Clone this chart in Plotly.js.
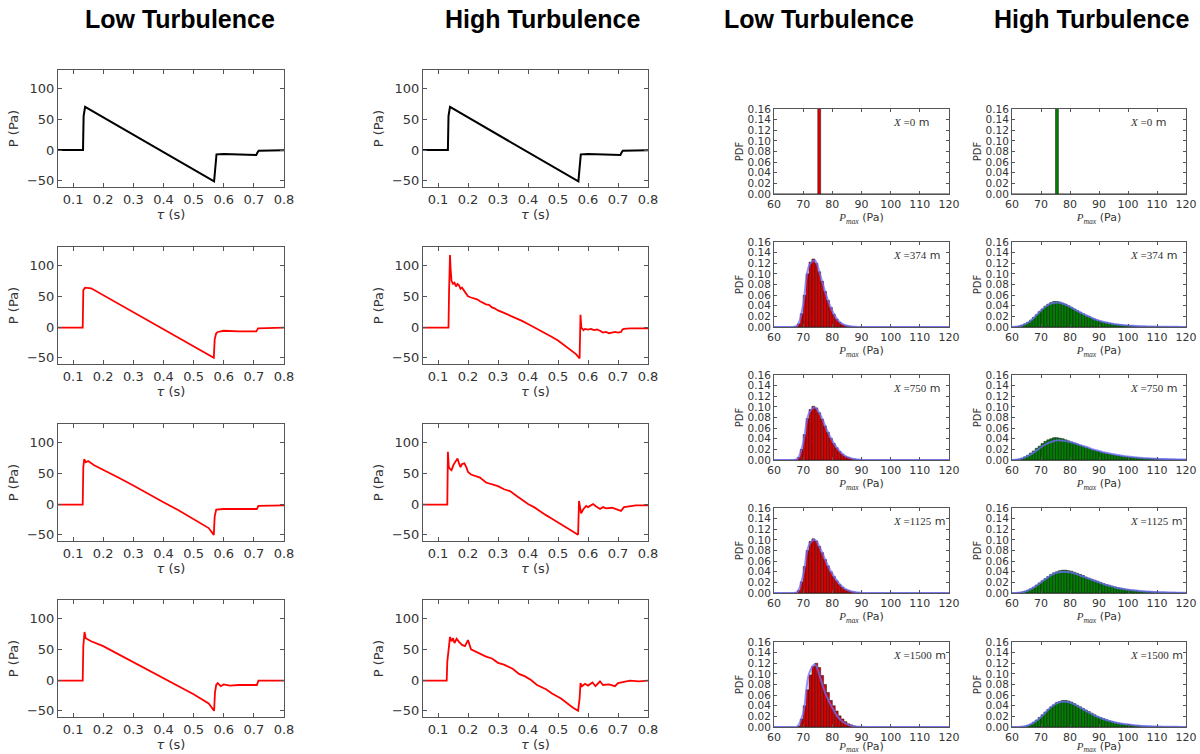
<!DOCTYPE html>
<html><head><meta charset="utf-8">
<script src="https://cdn.plot.ly/plotly-3.0.1.min.js"></script>
<style>html,body{margin:0;padding:0;background:#fff}#chart{width:1200px;height:754px}</style>
</head><body><div id="chart"></div><script>
// ---------- column titles ----------
const columnTitles = ['Low Turbulence','High Turbulence','Low Turbulence','High Turbulence'];
const distances = ['0','374','750','1125','1500'];

// ---------- waveform ticks ----------
const waveXTicks = [0.1,0.2,0.3,0.4,0.5,0.6,0.7,0.8];
const waveYTicks = [-50,0,50,100];

// ---------- waveforms (time s, pressure Pa) ----------
const waveT_0 = [0.05,0.133,0.135,0.14,0.568,0.571,0.576,0.6,0.65,0.7,0.708,0.712,0.716,0.8];
const waveP_0 = [0,0,55,70,-51,-30,-7,-6.5,-7,-8,-8,-4,-1,-0.5];

const waveT_low374 = [0.05,0.132,0.134,0.14,0.16,0.2,0.3,0.4,0.5,0.567,0.57,0.575,0.58,0.6,0.65,0.7,0.708,0.714,0.8];
const waveP_low374 = [-1,-1,60,64,63,52,24,-3,-31,-50,-20,-10,-8,-6,-7,-8,-7,-2,-1];

const waveT_low750 = [0.05,0.132,0.134,0.137,0.142,0.15,0.17,0.2,0.25,0.3,0.35,0.4,0.45,0.5,0.55,0.567,0.57,0.575,0.6,0.65,0.7,0.71,0.715,0.8];
const waveP_low750 = [-1,-1,60,73,68,70,63,56,43,30,16,3,-10,-24,-39,-50,-20,-9,-8,-8,-8,-8,-3,-2];

const waveT_low1125 = [0.05,0.132,0.134,0.138,0.142,0.15,0.16,0.2,0.25,0.3,0.35,0.4,0.45,0.5,0.55,0.568,0.571,0.575,0.58,0.59,0.6,0.62,0.65,0.7,0.71,0.715,0.8];
const waveP_low1125 = [-1,-1,55,78,68,66,63,55,42,29,16,3,-10,-23,-38,-50,-20,-8,-5,-10,-7,-9,-8,-8,-8,-1,-1];

const waveT_high374 = [0.05,0.135,0.137,0.14,0.142,0.145,0.15,0.155,0.16,0.165,
  0.17,0.175,0.18,0.185,0.19,0.195,0.2,0.21,0.22,0.23,
  0.24,0.25,0.26,0.27,0.28,0.29,0.3,0.32,0.34,0.36,
  0.38,0.4,0.42,0.44,0.46,0.48,0.5,0.52,0.54,0.56,
  0.572,0.575,0.578,0.58,0.585,0.59,0.6,0.61,0.62,0.63,
  0.64,0.65,0.66,0.67,0.68,0.69,0.7,0.71,0.715,0.72,
  0.74,0.76,0.78,0.8];
const waveP_high374 = [-1,-1,60,117,95,75,70,72,66,70,
  68,62,64,60,58,52,50,48,47,45,
  42,39,37,36,32,30,27,23,19,15,
  10,5,0,-5,-10,-16,-22,-29,-36,-44,
  -51,20,-3,-2,-5,-3,-4,-3,-5,-4,
  -6,-9,-8,-10,-9,-8,-9,-8,-4,-3,
  -2,-2,-3,-2];

const waveT_high750 = [0.05,0.131,0.133,0.136,0.14,0.145,0.152,0.158,0.165,0.17,
  0.175,0.18,0.188,0.195,0.2,0.21,0.22,0.24,0.26,0.28,
  0.3,0.32,0.34,0.36,0.38,0.4,0.42,0.44,0.46,0.48,
  0.5,0.52,0.54,0.56,0.567,0.57,0.577,0.585,0.594,0.6,
  0.61,0.617,0.625,0.64,0.65,0.66,0.68,0.7,0.71,0.72,
  0.74,0.76,0.8];
const waveP_high750 = [-1,-1,85,60,57,55,64,68,74,66,
  60,65,66,59,52,48,46,43,35,32,
  29,24,21,14,7,0,-5,-12,-18,-24,
  -30,-36,-41,-47,-50,5,-15,-8,-3,-5,
  -2,0,-3,-8,-5,-7,-6,-9,-11,-5,
  -3,-2,-2];

const waveT_high1125 = [0.05,0.129,0.131,0.14,0.145,0.15,0.155,0.162,0.17,0.18,
  0.19,0.2,0.21,0.23,0.26,0.28,0.3,0.32,0.35,0.37,
  0.39,0.41,0.43,0.46,0.48,0.51,0.53,0.55,0.567,0.572,
  0.575,0.58,0.59,0.6,0.615,0.625,0.64,0.65,0.67,0.69,
  0.7,0.72,0.74,0.77,0.8];
const waveP_high1125 = [-1,-1,30,70,63,68,60,67,62,57,
  55,65,50,45,38,35,28,25,18,10,
  6,0,-8,-15,-22,-30,-38,-45,-50,-30,
  -5,-10,-6,-9,-4,-10,-2,-8,-7,-10,
  -5,-3,-1,-2,-1];

// ---------- histogram bins (Pa) ----------
const binCenters = [60.5,61.5,62.5,63.5,64.5,65.5,66.5,67.5,68.5,69.5,
  70.5,71.5,72.5,73.5,74.5,75.5,76.5,77.5,78.5,79.5,
  80.5,81.5,82.5,83.5,84.5,85.5,86.5,87.5,88.5,89.5,
  90.5,91.5,92.5,93.5,94.5,95.5,96.5,97.5,98.5,99.5,
  100.5,101.5,102.5,103.5,104.5,105.5,106.5,107.5,108.5,109.5,
  110.5,111.5,112.5,113.5,114.5,115.5,116.5,117.5,118.5,119.5];
const histXTicks = [60,70,80,90,100,110,120];

const pdfLow0 = [0,0,0,0,0,0,0,0,0,0, 0,0,0,0,0,1,0,0,0,0,
  0,0,0,0,0,0,0,0,0,0, 0,0,0,0,0,0,0,0,0,0, 0,0,0,0,0,0,0,0,0,0, 0,0,0,0,0,0,0,0,0,0];
const pdfLow374 = [0,0,0,0,0,0,0,0.001,0.006,0.025,
  0.06,0.1,0.122,0.128,0.12,0.104,0.086,0.067,0.05,0.037,
  0.024,0.015,0.009,0.005,0.003,0.002,0.001,0.0005,0,0,
  0,0,0,0,0,0,0,0,0,0, 0,0,0,0,0,0,0,0,0,0, 0,0,0,0,0,0,0,0,0,0];
const pdfLow750 = [0,0,0,0,0,0,0,0.001,0.005,0.02,
  0.048,0.078,0.095,0.101,0.098,0.089,0.077,0.064,0.052,0.041,
  0.031,0.023,0.016,0.011,0.007,0.005,0.003,0.002,0.001,0.0005,
  0,0,0,0,0,0,0,0,0,0, 0,0,0,0,0,0,0,0,0,0, 0,0,0,0,0,0,0,0,0,0];
const pdfLow1125 = [0,0,0,0,0,0,0,0.001,0.005,0.021,
  0.05,0.08,0.097,0.102,0.098,0.088,0.076,0.063,0.051,0.04,
  0.031,0.023,0.016,0.011,0.007,0.005,0.003,0.002,0.001,0.0005,
  0,0,0,0,0,0,0,0,0,0, 0,0,0,0,0,0,0,0,0,0, 0,0,0,0,0,0,0,0,0,0];
const pdfLow1500 = [0,0,0,0,0,0,0,0,0.002,0.015,
  0.04,0.07,0.098,0.114,0.12,0.112,0.097,0.08,0.065,0.05,
  0.04,0.03,0.021,0.015,0.01,0.006,0.004,0.002,0.001,0.0005,
  0,0,0,0,0,0,0,0,0,0, 0,0,0,0,0,0,0,0,0,0, 0,0,0,0,0,0,0,0,0,0];

const pdfHigh0 = [0,0,0,0,0,0,0,0,0,0, 0,0,0,0,0,1,0,0,0,0,
  0,0,0,0,0,0,0,0,0,0, 0,0,0,0,0,0,0,0,0,0, 0,0,0,0,0,0,0,0,0,0, 0,0,0,0,0,0,0,0,0,0];
const pdfHigh374 = [0.0003,0.0008,0.0018,0.0035,0.006,0.009,0.013,0.018,0.023,0.029,
  0.034,0.039,0.043,0.046,0.048,0.048,0.047,0.045,0.043,0.04,
  0.037,0.034,0.031,0.028,0.025,0.022,0.02,0.017,0.015,0.013,
  0.011,0.0095,0.0083,0.0072,0.0062,0.0053,0.0046,0.004,0.0034,0.003,
  0.0026,0.0022,0.0019,0.0016,0.0014,0.0012,0.001,0.0009,0.0008,0.0007,
  0.0006,0.0005,0.0004,0.0004,0.0003,0.0003,0.0002,0.0002,0.0002,0.0001];
const pdfHigh750 = [0.0003,0.0008,0.0018,0.0035,0.006,0.009,0.013,0.017,0.022,0.026,
  0.031,0.035,0.038,0.04,0.042,0.042,0.041,0.04,0.038,0.036,
  0.034,0.032,0.03,0.028,0.026,0.024,0.022,0.02,0.0185,0.017,
  0.0155,0.014,0.0127,0.0115,0.0104,0.0094,0.0085,0.0077,0.007,0.0063,
  0.0057,0.0052,0.0047,0.0042,0.0038,0.0034,0.0031,0.0028,0.0025,0.0023,
  0.0021,0.0019,0.0017,0.0015,0.0014,0.0012,0.0011,0.001,0.0009,0.0008];
const pdfHigh1125 = [0.0001,0.0004,0.001,0.002,0.0035,0.0055,0.008,0.011,0.015,0.019,
  0.023,0.027,0.031,0.035,0.038,0.04,0.042,0.043,0.043,0.042,
  0.041,0.039,0.037,0.035,0.033,0.03,0.028,0.026,0.024,0.022,
  0.02,0.018,0.016,0.0145,0.013,0.0115,0.0102,0.009,0.008,0.007,
  0.0062,0.0055,0.0048,0.0042,0.0037,0.0032,0.0028,0.0025,0.0022,0.0019,
  0.0017,0.0015,0.0013,0.0011,0.001,0.0009,0.0008,0.0007,0.0006,0.0005];
const pdfHigh1500 = [0,0.0001,0.0003,0.0007,0.0015,0.003,0.0055,0.009,0.013,0.018,
  0.023,0.028,0.033,0.038,0.042,0.046,0.048,0.05,0.05,0.049,
  0.047,0.044,0.041,0.038,0.035,0.032,0.029,0.026,0.023,0.02,
  0.018,0.016,0.014,0.012,0.0105,0.009,0.0078,0.0067,0.0057,0.0049,
  0.0042,0.0036,0.003,0.0026,0.0022,0.0018,0.0015,0.0013,0.0011,0.0009,
  0.0008,0.0006,0.0005,0.0004,0.0004,0.0003,0.0002,0.0002,0.0002,0.0001];

// ---------- fitted PDF curves ----------
const fitX = [60,62,64,66,68,70,72,74,76,78,80,82,84,86,88,90,92,94,96,98,100,102,104,106,108,110,112,114,116,118,120];
const fitLow374 = [0,0,0,0,0.003,0.042,0.115,0.125,0.095,0.058,0.03,0.012,0.004,0.0015,0.0005,0,0,0,0,0,0,0,0,0,0,0,0,0,0,0,0];
const fitLow750 = [0,0,0,0,0.002,0.032,0.088,0.099,0.084,0.058,0.036,0.02,0.009,0.004,0.0015,0.0005,0,0,0,0,0,0,0,0,0,0,0,0,0,0,0];
const fitLow1125 = [0,0,0,0,0.002,0.034,0.09,0.1,0.082,0.057,0.036,0.02,0.009,0.004,0.0015,0.0005,0,0,0,0,0,0,0,0,0,0,0,0,0,0,0];
const fitLow1500 = [0,0,0,0,0.001,0.026,0.1,0.118,0.09,0.058,0.036,0.018,0.008,0.003,0.001,0.0003,0,0,0,0,0,0,0,0,0,0,0,0,0,0,0];
const fitHigh374 = [0,0.001,0.004,0.01,0.02,0.031,0.04,0.045,0.046,0.043,0.038,0.032,0.026,0.021,0.016,0.012,0.009,0.007,0.005,0.004,0.003,0.0022,0.0016,0.0012,0.0009,0.0007,0.0005,0.0004,0.0003,0.0002,0.0002];
const fitHigh750 = [0,0.001,0.004,0.009,0.016,0.024,0.031,0.035,0.037,0.036,0.034,0.031,0.027,0.024,0.02,0.017,0.014,0.012,0.01,0.008,0.0065,0.0053,0.0043,0.0035,0.0028,0.0023,0.0019,0.0015,0.0012,0.001,0.0008];
const fitHigh1125 = [0,0.0005,0.002,0.006,0.012,0.02,0.028,0.035,0.039,0.04,0.039,0.036,0.032,0.028,0.024,0.02,0.016,0.013,0.01,0.008,0.0063,0.005,0.0039,0.003,0.0023,0.0018,0.0014,0.001,0.0008,0.0006,0.0005];
const fitHigh1500 = [0,0,0.001,0.004,0.01,0.019,0.03,0.04,0.046,0.048,0.046,0.041,0.035,0.029,0.023,0.018,0.014,0.011,0.008,0.006,0.0045,0.0033,0.0024,0.0017,0.0012,0.0009,0.0006,0.0004,0.0003,0.0002,0.0001];

// ---------- layout geometry (pixels) ----------
const W = 1200, H = 754;
const waveCols = [[58,284],[423,648]];
const waveRows = [[70,187],[247,364],[424,541],[600,717]];
const histCols = [[774,949],[1012,1186]];
const histRows = [[109,194],[242,327],[375,460],[508,593],[642,727]];
const titleX = [180,542,819,1091];

const wavePanels = [
  [[waveT_0,waveP_0,'#000000'],[waveT_low374,waveP_low374,'#ff0000'],[waveT_low750,waveP_low750,'#ff0000'],[waveT_low1125,waveP_low1125,'#ff0000']],
  [[waveT_0,waveP_0,'#000000'],[waveT_high374,waveP_high374,'#ff0000'],[waveT_high750,waveP_high750,'#ff0000'],[waveT_high1125,waveP_high1125,'#ff0000']]
];
const histPanels = [
  [[pdfLow0,null],[pdfLow374,fitLow374],[pdfLow750,fitLow750],[pdfLow1125,fitLow1125],[pdfLow1500,fitLow1500]],
  [[pdfHigh0,null],[pdfHigh374,fitHigh374],[pdfHigh750,fitHigh750],[pdfHigh1125,fitHigh1125],[pdfHigh1500,fitHigh1500]]
];
const barColors = ['#dd0000','#008000'];

const traces = [];
const layout = {
  width: W, height: H, margin: {l:0,r:0,t:0,b:0},
  paper_bgcolor:'#ffffff', plot_bgcolor:'#ffffff',
  showlegend:false, hovermode:false, annotations: [],
  font:{family:'DejaVu Sans', color:'#333'}
};
let k = 0;
function axName(n){ return n===1 ? '' : String(n); }
const lineCol = '#555';

// waveforms
for (let c=0;c<2;c++){
  for (let r=0;r<4;r++){
    k++;
    const s = axName(k);
    const [t,p,col] = wavePanels[c][r];
    traces.push({type:'scatter', mode:'lines', x:t, y:p, xaxis:'x'+s, yaxis:'y'+s,
      line:{color:col, width:(r===0?2:1.8)}});
    layout['xaxis'+s] = {domain:[waveCols[c][0]/W, waveCols[c][1]/W], anchor:'y'+s,
      range:[0.05,0.8], tickvals:waveXTicks, ticktext:waveXTicks.map(v=>v.toFixed(1)),
      ticks:'inside', ticklen:4, tickcolor:lineCol, mirror:'allticks', showline:true, linecolor:lineCol, linewidth:1,
      showgrid:false, zeroline:false, tickfont:{family:'DejaVu Sans', size:13, color:'#333'},
      title:{text:'<i>τ</i> (s)', font:{family:'DejaVu Sans', size:13, color:'#333'}, standoff:2}, fixedrange:true};
    layout['yaxis'+s] = {domain:[1-waveRows[r][1]/H, 1-waveRows[r][0]/H], anchor:'x'+s,
      range:[-60,130], tickvals:waveYTicks, ticktext:waveYTicks.map(v=> v<0 ? '\u2212'+Math.abs(v) : String(v)),
      ticks:'inside', ticklen:4, tickcolor:lineCol, mirror:'allticks', showline:true, linecolor:lineCol, linewidth:1,
      showgrid:false, zeroline:false, tickfont:{family:'DejaVu Sans', size:13, color:'#333'},
      title:{text:'P (Pa)', font:{family:'DejaVu Sans', size:13, color:'#333'}, standoff:5}, fixedrange:true};
  }
}
// histograms
for (let c=0;c<2;c++){
  for (let r=0;r<5;r++){
    k++;
    const s = axName(k);
    const [pdf, fit] = histPanels[c][r];
    traces.push({type:'bar', x:binCenters, y:pdf, width:1, xaxis:'x'+s, yaxis:'y'+s,
      marker:{color:barColors[c], line:{color:'#111', width:0.5}}});
    if (fit) traces.push({type:'scatter', mode:'lines', x:fitX, y:fit, xaxis:'x'+s, yaxis:'y'+s,
      line:{color:'rgba(110,110,255,0.75)', width:2, shape:'spline', smoothing:1}});
    layout['xaxis'+s] = {domain:[histCols[c][0]/W, histCols[c][1]/W], anchor:'y'+s,
      range:[60,120], tickvals:histXTicks,
      ticks:'inside', ticklen:3, tickcolor:lineCol, mirror:'allticks', showline:true, linecolor:lineCol, linewidth:1,
      showgrid:false, zeroline:false, tickfont:{family:'DejaVu Sans', size:11, color:'#333'},
      title:{text:'<span style="font-family:Liberation Serif"><i>P</i><sub><i>max</i></sub></span> (Pa)', font:{family:'DejaVu Sans', size:11, color:'#333'}, standoff:1}, fixedrange:true};
    layout['yaxis'+s] = {domain:[1-histRows[r][1]/H, 1-histRows[r][0]/H], anchor:'x'+s,
      range:[0,0.16], dtick:0.02, tick0:0, tickformat:'.2f',
      ticks:'inside', ticklen:3, tickcolor:lineCol, mirror:'allticks', showline:true, linecolor:lineCol, linewidth:1,
      showgrid:false, zeroline:false, tickfont:{family:'DejaVu Sans', size:10.5, color:'#333'},
      title:{text:'PDF', font:{family:'DejaVu Sans', size:10, color:'#333'}, standoff:2}, fixedrange:true};
    layout.annotations.push({xref:'x'+s, yref:'y'+s, x:100, y:0.135, xanchor:'left', yanchor:'middle',
      showarrow:false, text:'<i>X</i> =' + distances[r] + '<span style="font-family:DejaVu Sans"> m</span>',
      font:{family:'Liberation Serif', size:11, color:'#333'}});
  }
}
// column titles
for (let i=0;i<4;i++){
  layout.annotations.push({xref:'paper', yref:'paper', x:titleX[i]/W, y:1-19.5/H, xanchor:'center', yanchor:'middle',
    showarrow:false, text:'<b>'+columnTitles[i]+'</b>', font:{family:'Liberation Sans', size:25, color:'#000'}});
}
layout.barmode = 'overlay';
Plotly.newPlot('chart', traces, layout, {staticPlot:true, displayModeBar:false});
</script></body></html>
